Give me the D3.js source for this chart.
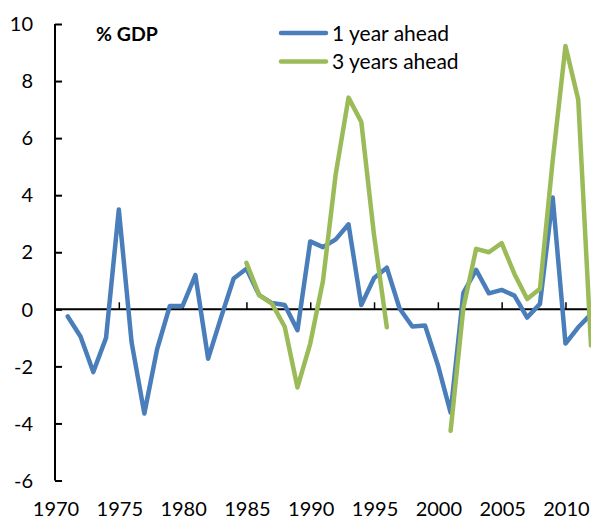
<!DOCTYPE html>
<html>
<head>
<meta charset="utf-8">
<script src="https://cdn.jsdelivr.net/npm/d3@7"></script>
<style>
  html, body { margin: 0; padding: 0; background: #fff; }
  svg { display: block; }
  text { font-family: Lato, "Open Sans", sans-serif; fill: #000; }
</style>
</head>
<body>
<svg id="chart" width="591" height="520"></svg>
<script>
const years = d3.range(1971, 2013);
const oneYearAhead = [
  -0.25, -0.95, -2.2, -1.0, 3.5, -1.15, -3.65, -1.4, 0.12, 0.12,
  1.2, -1.73, -0.3, 1.08, 1.42, 0.5, 0.22, 0.15, -0.73, 2.38,
  2.18, 2.45, 2.98, 0.15, 1.1, 1.46, 0.03, -0.6, -0.57, -1.95,
  -3.62, 0.58, 1.38, 0.56, 0.68, 0.48, -0.29, 0.19, 3.92, -1.2,
  -0.63, -0.17
];
const threeYearsAhead = [
  null, null, null, null, null, null, null, null, null, null,
  null, null, null, null, 1.63, 0.5, 0.2, -0.61, -2.74, -1.2,
  1.0, 4.75, 7.42, 6.57, 2.6, -0.63, null, null, null, null,
  -4.26, 0.05, 2.12, 2.0, 2.32, 1.24, 0.36, 0.72, 5.22, 9.23,
  7.35, -1.27
];
const seriesNames = ["1 year ahead", "3 years ahead"];
const seriesColors = ["#4A7EBB", "#9BBB59"];
const yTicks = [-6, -4, -2, 0, 2, 4, 6, 8, 10];
const xTicks = [1970, 1975, 1980, 1985, 1990, 1995, 2000, 2005, 2010];
const unitLabel = "% GDP";

const svg = d3.select("#chart");
const x = d3.scaleLinear().domain([1970, 2012]).range([55, 591]);
const y = d3.scaleLinear().domain([-6, 10]).range([480.5, 24]);

// Y axis
const yAxis = d3.axisRight(y).tickValues(yTicks).tickSize(7).tickFormat("");
const gy = svg.append("g").attr("transform", `translate(${x(1970)},0)`).call(yAxis);
gy.select(".domain").attr("stroke", "#000").attr("stroke-width", 2).attr("d", `M0,${y(-6)}V${y(10)}`);
gy.selectAll(".tick line").attr("stroke", "#000").attr("stroke-width", 2);

svg.append("g").selectAll("text").data(yTicks).join("text")
  .attr("x", 33).attr("y", d => y(d)).attr("dy", "0.36em")
  .attr("text-anchor", "end").attr("font-size", 20)
  .text(d => d);

// X axis at zero
const xAxis = d3.axisTop(x).tickValues(xTicks.slice(1)).tickSize(7).tickFormat("");
const gx = svg.append("g").attr("transform", `translate(0,${y(0)})`).call(xAxis);
gx.select(".domain").attr("stroke", "#000").attr("stroke-width", 2).attr("d", `M${x(1970)},0H591`);
gx.selectAll(".tick line").attr("stroke", "#000").attr("stroke-width", 1.5);

svg.append("g").selectAll("text").data(xTicks).join("text")
  .attr("x", d => x(d) + 1).attr("y", 516)
  .attr("text-anchor", "middle").attr("font-size", 20)
  .text(d => d);

// Lines
const line = d3.line()
  .defined(d => d.v !== null)
  .x(d => x(d.year)).y(d => y(d.v));

[oneYearAhead, threeYearsAhead].forEach((vals, i) => {
  const data = years.map((yr, j) => ({ year: yr, v: vals[j] }));
  svg.append("path").datum(data)
    .attr("fill", "none").attr("stroke", seriesColors[i])
    .attr("stroke-width", 4.5).attr("stroke-linejoin", "round").attr("stroke-linecap", "round")
    .attr("d", line);
});

// Unit label
svg.append("text").attr("x", 96).attr("y", 40.5)
  .attr("font-size", 19.5).attr("font-weight", "bold").text(unitLabel);

// Legend
const legend = svg.append("g");
seriesNames.forEach((name, i) => {
  const ly = 33 + i * 28.5;
  legend.append("line").attr("x1", 281).attr("x2", 326).attr("y1", ly).attr("y2", ly)
    .attr("stroke", seriesColors[i]).attr("stroke-width", 4.5).attr("stroke-linecap", "round");
  legend.append("text").attr("x", 332).attr("y", ly).attr("dy", "0.36em")
    .attr("font-size", 21).text(name);
});
</script>
</body>
</html>
